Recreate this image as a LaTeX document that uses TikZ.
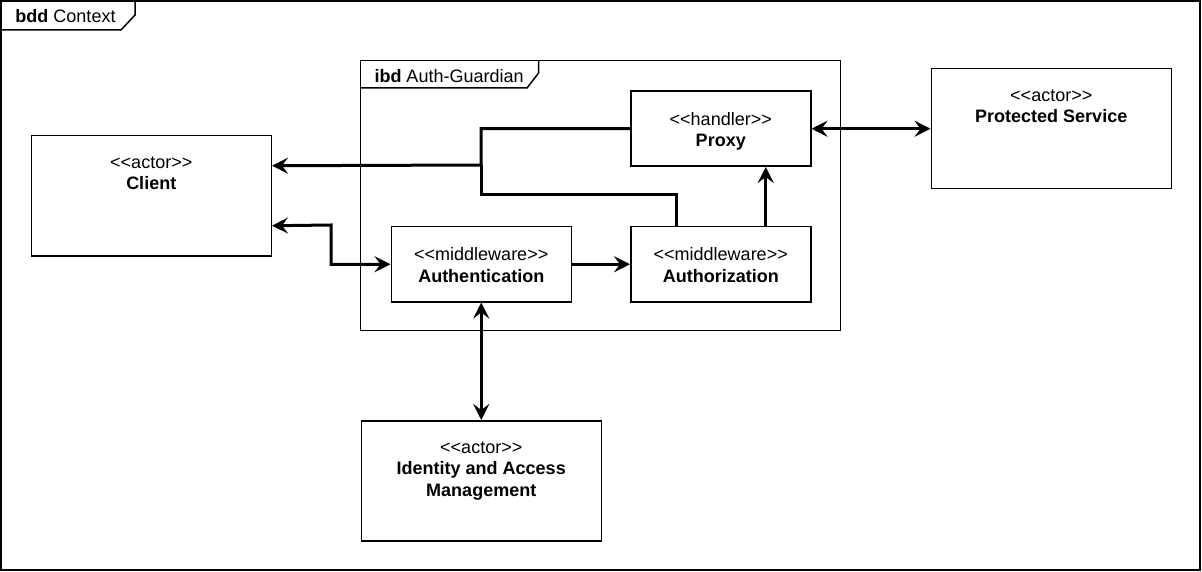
\documentclass[tikz,border=0pt]{standalone}
\usepackage{fontspec}
\setmainfont{Liberation Sans}
\usetikzlibrary{arrows.meta}

\newcommand{\stereotype}[1]{<\kern0pt<#1>\kern0pt>}

\begin{document}
\begin{tikzpicture}[x=1pt,y=-1pt,>={Stealth[length=16pt,width=16pt,inset=6pt]},
                    line width=3pt,
                    frame/.style={draw,line width=1.5pt},
                    actor box/.style={draw,line width=1.5pt,inner sep=0pt,anchor=north west,
                                      minimum width=240pt,minimum height=120pt},
                    part box/.style={draw,line width=1.5pt,inner sep=0pt,anchor=north west,
                                     minimum width=180pt,minimum height=75pt},
                    caption/.style={anchor=north,yshift=-20pt,inner sep=0pt,align=center,
                                    font=\fontsize{18}{21.6}\selectfont},
                    tab text/.style={anchor=base west,inner sep=0pt,font=\fontsize{18}{21.6}\selectfont}]
\useasboundingbox (0,0) rectangle (1202,572);

% Create frames for the diagrams
\draw[frame] (1,1) rectangle (1200,570);
\draw[frame] (1,30) -- (121,30) -- (135,15) -- (135,1);
\node[tab text] (bdd label) at (14,23) {\textbf{bdd} Context};
\draw[frame] (360.5,60.5) rectangle (840.5,330.5);
\draw[frame] (360.5,88) -- (527,88) -- (538.5,73) -- (538.5,60.5);
\node[tab text] (ibd label) at (373,83) {\textbf{ibd} Auth-Guardian};

% Create nodes for the blocks
\node[actor box,label={[caption]north:{\stereotype{actor}\\\textbf{Client}}}] (client) at (30.5,135) {};
\node[part box,label={[caption]north:{\stereotype{handler}\\\textbf{Proxy}}}] (proxy) at (630,90.5) {};
\node[part box,label={[caption]north:{\stereotype{middleware}\\\textbf{Authentication}}}] (authn) at (390.5,226) {};
\node[part box,label={[caption]north:{\stereotype{middleware}\\\textbf{Authorization}}}] (authz) at (630,226) {};
\node[actor box,label={[caption]north:{\stereotype{actor}\\\textbf{Protected Service}}}] (service) at (930.5,68) {};
\node[actor box,label={[caption]north:{\stereotype{actor}\\\textbf{Identity and Access}\\\textbf{Management}}}] (iam) at (360.5,420) {};

% Create connectors between the blocks
\coordinate (join) at (481,165);
\coordinate (bend) at (481,195);
\coordinate (client in) at ([yshift=30pt]client.east);
\coordinate (client out) at ([yshift=-30pt]client.east);
\coordinate (authz out) at ([xshift=-44pt]authz.north);
\draw[->] (proxy.west) -| (join) -- (client in);
\draw (authz out) |- (bend) -- (join);
\draw[<->] (client out) -- (331,225) |- (authn.west);
\draw[->] (authn.east) -- (authz.west);
\draw[->] ([xshift=45pt]authz.north) -- ([xshift=45pt]proxy.south);
\draw[<->] (proxy.east) -- (service.west |- proxy.east);
\draw[<->] (authn.south) -- (iam.north);
\end{tikzpicture}
\end{document}
